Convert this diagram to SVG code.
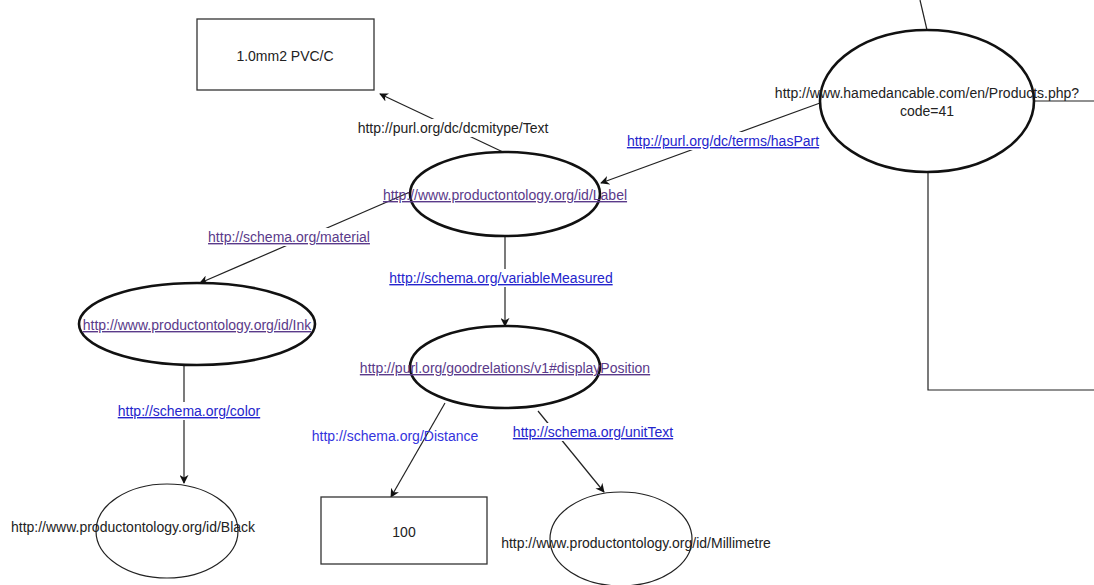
<svg xmlns="http://www.w3.org/2000/svg" width="1094" height="585" viewBox="0 0 1094 585">
<style>
text{font-family:"Liberation Sans",Arial,sans-serif;font-size:14px;text-anchor:middle;}
.blk{fill:#222;}
.lnk{fill:#2424cc;text-decoration:underline;}
.vis{fill:#5a3a8a;text-decoration:underline;}
.plain{fill:#3333dd;}
.thick{fill:#fff;stroke:#111;stroke-width:2.6;}
.thin{fill:#fff;stroke:#222;stroke-width:1.2;}
.box{fill:#fff;stroke:#333;stroke-width:1.3;}
.edge{fill:none;stroke:#222;stroke-width:1.2;}
.lbg{fill:#fff;}
</style>
<defs>
<marker id="arr" viewBox="0 0 10 10" refX="9" refY="5" markerWidth="9" markerHeight="9" markerUnits="userSpaceOnUse" orient="auto">
<path d="M0,0 L10,5 L0,10 L3,5 Z" fill="#111"/>
</marker>
</defs>
<g id="connectors">
<line class="edge" x1="503" y1="152" x2="380" y2="94" marker-end="url(#arr)"/>
<line class="edge" x1="820" y1="103" x2="601" y2="183" marker-end="url(#arr)"/>
<line class="edge" x1="410" y1="192" x2="200" y2="283" marker-end="url(#arr)"/>
<line class="edge" x1="505" y1="237" x2="505" y2="326" marker-end="url(#arr)"/>
<line class="edge" x1="184" y1="366" x2="184" y2="483" marker-end="url(#arr)"/>
<line class="edge" x1="445" y1="403" x2="391" y2="497" marker-end="url(#arr)"/>
<line class="edge" x1="538" y1="411" x2="604" y2="492" marker-end="url(#arr)"/>
<line class="edge" x1="920" y1="0" x2="927" y2="30"/>
<line class="edge" x1="1035" y1="101" x2="1094" y2="101"/>
<polyline class="edge" points="928,173 928,390 1094,390"/>
<rect class="lbg" x="355" y="119" width="198" height="18"/>
<text class="blk" x="453" y="133">http://purl.org/dc/dcmitype/Text</text>
<rect class="lbg" x="625" y="132" width="196" height="18"/>
<text class="lnk" x="723" y="146">http://purl.org/dc/terms/hasPart</text>
<rect class="lbg" x="206" y="228" width="166" height="18"/>
<text class="vis" x="289" y="242">http://schema.org/material</text>
<rect class="lbg" x="387" y="269" width="228" height="18"/>
<text class="lnk" x="501" y="283">http://schema.org/variableMeasured</text>
<rect class="lbg" x="116" y="402" width="146" height="18"/>
<text class="lnk" x="189" y="416">http://schema.org/color</text>
<text class="plain" x="395" y="441">http://schema.org/Distance</text>
<rect class="lbg" x="511" y="423" width="165" height="18"/>
<text class="lnk" x="593" y="437">http://schema.org/unitText</text>
</g>
<g id="node-pvc">
<rect class="box" x="197" y="19" width="177" height="71"/>
<text class="blk" x="285" y="61">1.0mm2 PVC/C</text>
</g>
<g id="node-hamedan">
<ellipse class="thick" cx="927" cy="101" rx="107" ry="71"/>
<text class="blk" x="927" y="98">http://www.hamedancable.com/en/Products.php?</text>
<text class="blk" x="927" y="116">code=41</text>
</g>
<g id="node-label">
<ellipse class="thick" cx="505" cy="194" rx="95" ry="42"/>
<text class="vis" x="505" y="200">http://www.productontology.org/id/Label</text>
</g>
<g id="node-ink">
<ellipse class="thick" cx="197" cy="324" rx="118" ry="41"/>
<text class="vis" x="197" y="330">http://www.productontology.org/id/Ink</text>
</g>
<g id="node-display">
<ellipse class="thick" cx="505" cy="367" rx="95" ry="41"/>
<text class="vis" x="505" y="373">http://purl.org/goodrelations/v1#displayPosition</text>
</g>
<g id="node-black">
<ellipse class="thin" cx="167" cy="531" rx="71" ry="47"/>
<text class="blk" x="133" y="532">http://www.productontology.org/id/Black</text>
</g>
<g id="node-100">
<rect class="box" x="321" y="497" width="166" height="67"/>
<text class="blk" x="404" y="537">100</text>
</g>
<g id="node-millimetre">
<ellipse class="thin" cx="621" cy="539" rx="71" ry="47"/>
<text class="blk" x="636" y="548">http://www.productontology.org/id/Millimetre</text>
</g>
</svg>
